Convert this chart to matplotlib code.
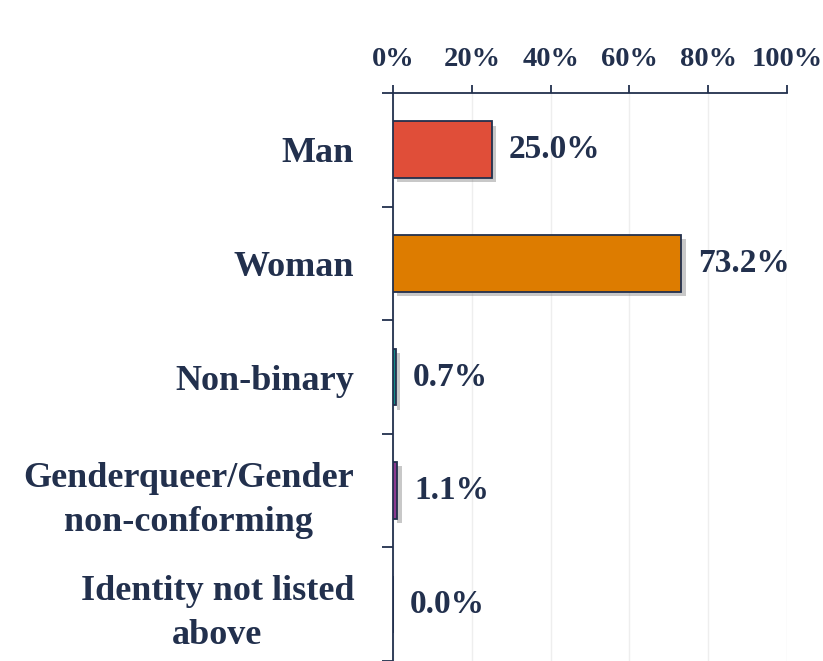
import matplotlib
matplotlib.use("Agg")
import matplotlib.pyplot as plt
import matplotlib.patheffects as pe
from matplotlib.ticker import FixedLocator, PercentFormatter

# data
categories = ["Man", "Woman", "Non-binary", "Genderqueer/Gender\nnon-conforming",
              "Identity not listed\nabove"]
values = [25.0, 73.2, 0.7, 1.1, 0.0]
colors = ["#E04E39", "#DD7C00", "#138A86", "#8B3A8F", "#4A6FA5"]
xticks = [0, 20, 40, 60, 80, 100]

navy = "#22304D"
plt.rcParams["font.family"] = ["Liberation Serif", "DejaVu Serif"]
plt.rcParams["font.weight"] = "bold"

fig = plt.figure(figsize=(8.23, 6.61), dpi=100)
ax = fig.add_axes([393 / 823, 0.0, (787 - 393) / 823, (661 - 93) / 661])

y = list(range(len(categories)))
shadow = [pe.SimplePatchShadow(offset=(3, -3), shadow_rgbFace="#777777", alpha=0.4), pe.Normal()]
bars = ax.barh(y, values, height=0.5, color=colors, edgecolor=navy, linewidth=1.3,
               zorder=3)
for b in bars:
    b.set_path_effects(shadow)

for yi, v in zip(y, values):
    ax.annotate(f"{v:.1f}%", (v, yi), xytext=(12, 0), textcoords="offset points",
                va="center", ha="left", fontsize=24, color=navy, fontweight="bold")

ax.set_xlim(0, 100)
ax.set_ylim(len(categories) - 0.5, -0.5)
ax.xaxis.tick_top()
ax.set_xticks(xticks)
ax.xaxis.set_major_formatter(PercentFormatter(decimals=0))
ax.tick_params(axis="x", which="major", direction="out", length=6, width=1.3,
               color=navy, labelsize=20.5, labelcolor=navy, pad=9)

ax.set_yticks(y)
ax.set_yticklabels(categories, ha="right", multialignment="center", linespacing=1.45)
ax.yaxis.set_minor_locator(FixedLocator([i + 0.5 for i in range(-1, len(categories))]))
ax.tick_params(axis="y", which="major", length=0, labelsize=26, labelcolor=navy, pad=28)
ax.tick_params(axis="y", which="minor", length=8, width=1.3, color=navy)

ax.grid(axis="x", color="#EEEEEE", linewidth=1, zorder=0)
for side in ["right", "bottom"]:
    ax.spines[side].set_visible(False)
for side in ["top", "left"]:
    ax.spines[side].set_color(navy)
    ax.spines[side].set_linewidth(1.3)

fig.savefig("out.png", dpi=100)
